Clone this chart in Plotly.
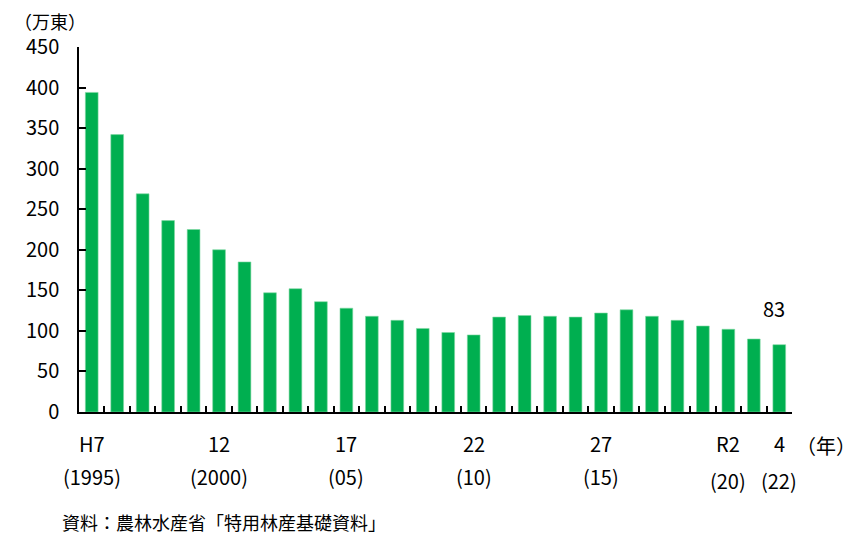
import plotly.graph_objects as go

years = list(range(1995, 2023))
volumes = [394, 342, 269, 236, 225, 200, 185, 147, 152, 136, 128, 118, 113, 103,
           98, 95, 117, 119, 118, 117, 122, 126, 118, 113, 106, 102, 90, 83]

label_years = [1995, 2000, 2005, 2010, 2015, 2020, 2022]
era_labels = ["H7", "12", "17", "22", "27", "R2", "4"]
west_labels = ["(1995)", "(2000)", "(05)", "(10)", "(15)", "(20)", "(22)"]

y_ticks = list(range(0, 451, 50))

FONT = "Noto Sans CJK JP"
GREEN = "#00AF50"

# the page body adds 8px around the figure, so the figure is a bit smaller
W, H = 857, 527
L, T, R, B = 71, 39, 73, 123
plot_w = W - L - R


def px_x(page_x):
    """page x pixel -> paper fraction"""
    return (page_x - 8 - L) / plot_w


fig = go.Figure()
fig.add_trace(go.Bar(
    x=years, y=volumes,
    marker=dict(color=GREEN, line=dict(color="#7fd8a3", width=0.6)),
    width=0.5,
    hoverinfo="x+y",
))

# boundary ticks between years; the labels are annotations below
boundaries = [y - 0.5 for y in years] + [years[-1] + 0.5]
fig.update_xaxes(
    range=[years[0] - 0.5, years[-1] + 0.5],
    tickmode="array", tickvals=boundaries, ticktext=[""] * len(boundaries),
    ticks="inside", ticklen=6, tickwidth=1.5, tickcolor="black",
    showline=True, linecolor="black", linewidth=1.5,
    showgrid=False, zeroline=False,
)
fig.update_yaxes(
    range=[0, 450],
    tickmode="array", tickvals=y_ticks,
    ticks="inside", ticklen=7, tickwidth=1.5, tickcolor="black",
    showline=True, linecolor="black", linewidth=1.5,
    showgrid=False, zeroline=False,
    tickfont=dict(family=FONT, size=20, color="black"),
    ticklabelstandoff=14,
)

ann_font = dict(family=FONT, size=20, color="black")
annotations = []
for yr, top, bottom in zip(label_years, era_labels, west_labels):
    annotations.append(dict(x=yr, xref="x", y=0, yref="paper", yshift=-31,
                            text=top, showarrow=False, yanchor="middle",
                            font=ann_font))
    annotations.append(dict(x=yr, xref="x", y=0, yref="paper",
                            yshift=-68 if yr >= 2020 else -64,
                            text=bottom, showarrow=False, yanchor="middle",
                            font=ann_font))

annotations += [
    dict(x=px_x(826), xref="paper", y=0, yref="paper", yshift=-33,
         text="（年）", showarrow=False, xanchor="center", yanchor="middle",
         font=ann_font),
    dict(x=years[-1], xref="x", y=volumes[-1], yref="y", text=str(volumes[-1]),
         showarrow=False, yanchor="bottom", yshift=20, xshift=-5,
         font=ann_font),
    dict(x=px_x(12), xref="paper", y=1, yref="paper", yshift=26,
         text="（万東）", showarrow=False, xanchor="left", yanchor="middle",
         font=dict(family=FONT, size=18, color="black")),
    dict(x=px_x(60), xref="paper", y=0, yref="paper", yshift=-110,
         text="資料：農林水産省「特用林産基礎資料」",
         showarrow=False, xanchor="left", yanchor="middle",
         font=dict(family=FONT, size=18, color="black")),
]

fig.update_layout(
    width=W, height=H,
    margin=dict(l=L, r=R, t=T, b=B),
    paper_bgcolor="white", plot_bgcolor="white",
    showlegend=False,
    font=dict(family=FONT, color="black"),
    annotations=annotations,
)

fig.write_html("out.html")
